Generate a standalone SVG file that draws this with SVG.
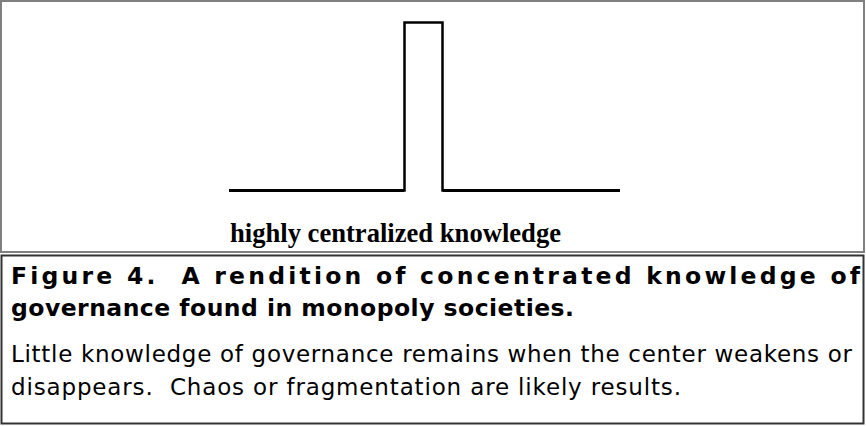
<svg xmlns="http://www.w3.org/2000/svg" width="866" height="426" viewBox="0 0 866 426">
  <style>
    .frame { fill: none; }
    .pulse { fill: none; stroke: #000; stroke-width: 2.5; stroke-linejoin: miter; }
    .base { stroke: #000; stroke-width: 3; }
    .label { font-family: "Liberation Serif", "Times New Roman", serif; font-weight: bold; font-size: 27px; fill: #000; }
    .title { font-family: "DejaVu Sans", Verdana, sans-serif; font-weight: bold; font-size: 23.5px; fill: #000; white-space: pre; }
    .body { font-family: "DejaVu Sans", Verdana, sans-serif; font-size: 23px; fill: #000; white-space: pre; }
  </style>
  <rect width="866" height="426" fill="#fff"/>
  <g id="figure-box">
    <rect class="frame" x="1" y="1" width="863" height="251" stroke="#808080" stroke-width="2"/>
  </g>
  <g id="pulse">
    <path class="pulse" d="M229,190.5 H404.5 V22.5 H442.5 V190.5 H620"/>
    <line class="base" x1="229" y1="190.5" x2="404" y2="190.5"/>
    <line class="base" x1="443" y1="190.5" x2="620" y2="190.5"/>
  </g>
  <g id="label">
    <text class="label" x="230" y="242" textLength="331" lengthAdjust="spacingAndGlyphs">highly centralized knowledge</text>
  </g>
  <g id="caption-box">
    <rect class="frame" x="1.5" y="255.5" width="862" height="168" stroke="#333" stroke-width="2"/>
    <text class="title" x="11" y="284" textLength="849" lengthAdjust="spacing">Figure 4.  A rendition of concentrated knowledge of</text>
    <text class="title" x="11" y="316" textLength="563" lengthAdjust="spacing">governance found in monopoly societies.</text>
    <text class="body" x="11" y="362" textLength="841" lengthAdjust="spacing">Little knowledge of governance remains when the center weakens or</text>
    <text class="body" x="11" y="395" textLength="670" lengthAdjust="spacing">disappears.  Chaos or fragmentation are likely results.</text>
  </g>
</svg>
